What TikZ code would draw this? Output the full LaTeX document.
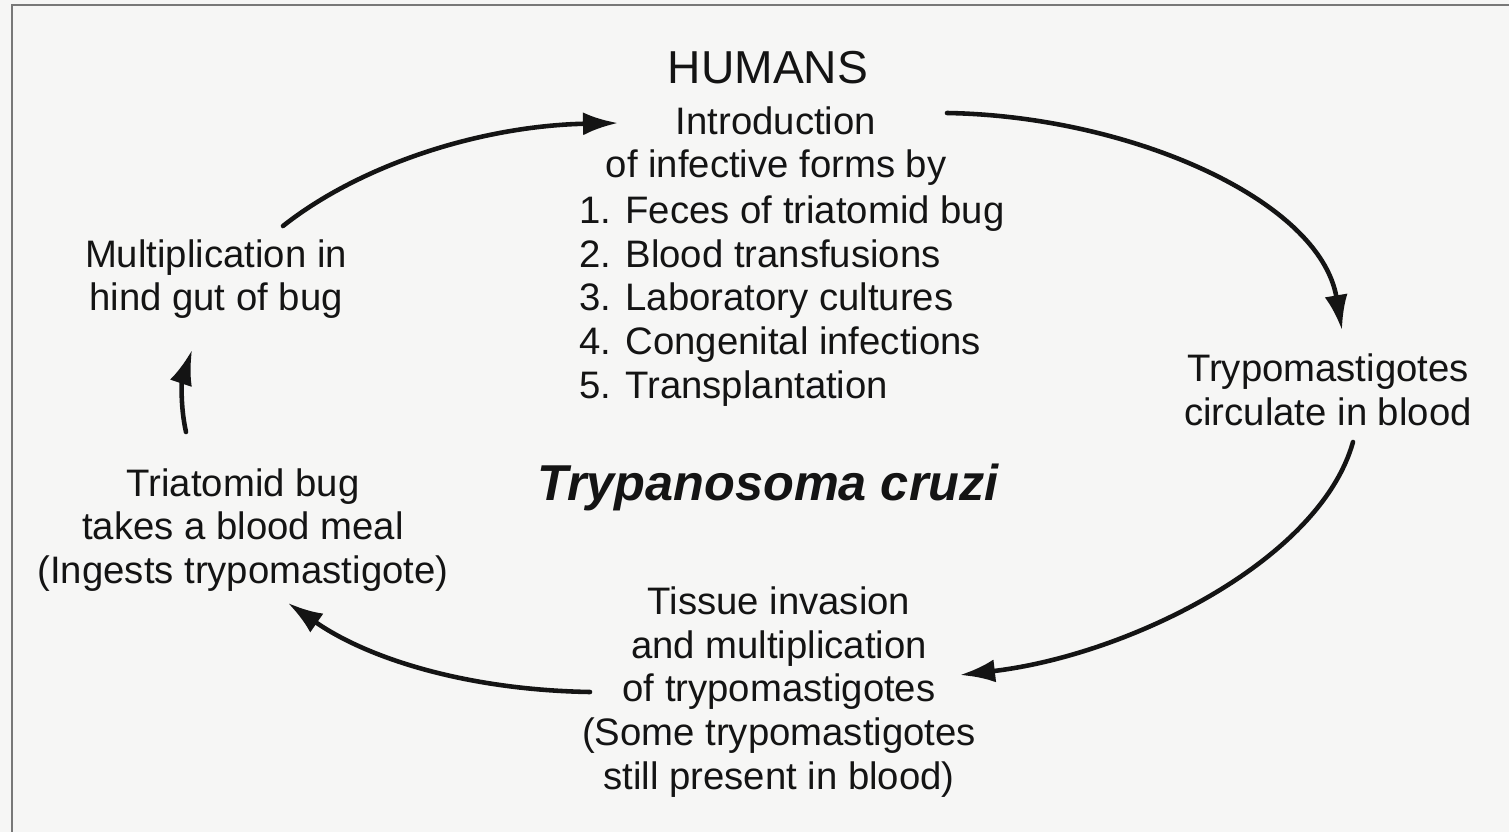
\documentclass[tikz,border=0pt]{standalone}
\usepackage{fontspec}
\setmainfont{Liberation Sans}
\usetikzlibrary{arrows.meta}

\definecolor{tcpaper}{RGB}{246,246,245}
\definecolor{tcframe}{RGB}{120,120,120}
\definecolor{tcink}{RGB}{20,20,20}

\tikzset{
  stage/.style={align=center, inner sep=0pt, text=tcink,
    font=\fontsize{21.8}{24.8}\selectfont},
  cycle/.style={tcink, line width=2.6pt, line cap=round,
    -{Latex[length=0.7cm,width=0.46cm]}}
}

\begin{document}
\begin{tikzpicture}[x=0.02cm, y=-0.02cm]
\useasboundingbox (0,0) rectangle (1509,832);
\fill[tcpaper] (0,0) rectangle (1509,832);
\draw[tcframe, line width=1.2pt] (12,832) -- (12,5) -- (1509,5);

%% host and stages
\node[stage, font=\fontsize{26.3}{30}\selectfont] (humans) at (768,68) {HUMANS};
\node[stage] (intro) at (776,146) {Introduction\\of infective forms by};
\node[stage, align=left, anchor=west] (routes) at (579,301)
  {1. Feces of triatomid bug\\2. Blood transfusions\\3. Laboratory cultures\\
   4. Congenital infections\\5. Transplantation};
\node[stage] (blood) at (1328,390) {Trypomastigotes\\circulate in blood};
\node[stage] (tissue) at (779,692) {Tissue invasion\\and multiplication\\of trypomastigotes\\
  (Some trypomastigotes\\still present in blood)};
\node[stage] (meal) at (243,530) {Triatomid bug\\takes a blood meal\\(Ingests trypomastigote)};
\node[stage] (gut) at (216,279) {Multiplication in\\hind gut of bug};
\node[stage, font=\fontsize{28.7}{34}\selectfont\bfseries\itshape] (title) at (768,487)
  {Trypanosoma cruzi};

%% arrow ends
\coordinate (gutout) at (283,226);
\coordinate (humin) at (618,123);
\coordinate (humout) at (947,113);
\coordinate (bloodin) at (1342,330);
\coordinate (bloodout) at (1353,442);
\coordinate (tissuein) at (960,675);
\coordinate (tissueout) at (590,692);
\coordinate (mealin) at (288,603);
\coordinate (mealout) at (186,432);
\coordinate (gutin) at (192,350);

%% the cycle
\draw[cycle] (gutout) .. controls (360,165) and (480,126) .. (humin);
\draw[cycle] (humout) .. controls (1130,116) and (1320,200) .. (bloodin);
\draw[cycle] (bloodout) .. controls (1320,560) and (1130,655) .. (tissuein);
\draw[cycle] (tissueout) .. controls (470,690) and (370,660) .. (mealin);
\draw[cycle] (mealout) .. controls (180,405) and (182,380) .. (gutin);
\end{tikzpicture}
\end{document}
